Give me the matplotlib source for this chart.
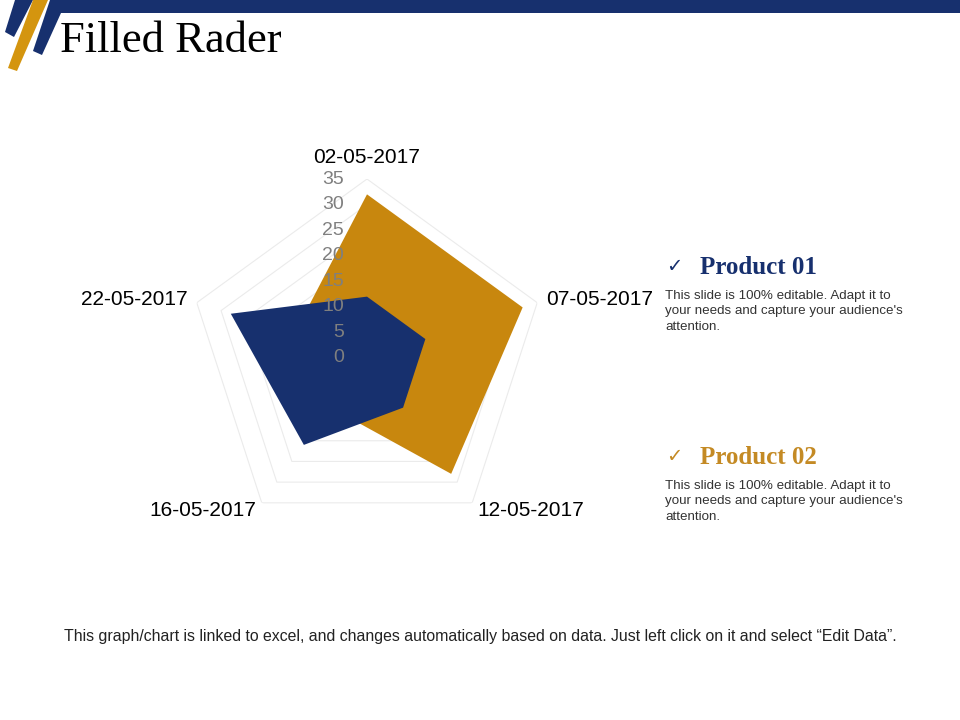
import numpy as np
import matplotlib
matplotlib.use('Agg')
import matplotlib.pyplot as plt
from matplotlib.patches import Polygon
from matplotlib.transforms import offset_copy

# data
dates = ['02-05-2017', '07-05-2017', '12-05-2017', '16-05-2017', '22-05-2017']
product_01 = [12, 12, 12, 21, 28]
product_02 = [32, 32, 28, 12, 15]
rings = [5, 10, 15, 20, 25, 30, 35]
tick_labels = ['0', '5', '10', '15', '20', '25', '30', '35']

navy = '#17306E'
gold = '#C8870E'
gold_text = '#C48A24'

fig = plt.figure(figsize=(9.6, 7.2), dpi=100)

# background layer in pixel coordinates for header + text
bg = fig.add_axes([0, 0, 1, 1])
bg.set_xlim(0, 960)
bg.set_ylim(720, 0)
bg.axis('off')

bg.add_patch(Polygon([(50, 0), (960, 0), (960, 13), (61, 13), (42, 55), (33, 51)],
                     closed=True, color=navy, lw=0))
bg.add_patch(Polygon([(15, 0), (33, 0), (14, 37), (5, 32)], closed=True, color=navy, lw=0))
bg.add_patch(Polygon([(33, 0), (48, 0), (17, 71), (8, 68)], closed=True, color='#D4950F', lw=0))

bg.text(60, 41, 'Filled Rader', fontsize=32, family='Liberation Serif',
        color='black', ha='left', va='center')

# product notes
body = "This slide is 100% editable. Adapt it to\nyour needs and capture your audience's\nattention."
for y0, name, col in [(267, 'Product 01', navy), (457, 'Product 02', gold_text)]:
    bg.text(666, y0, '\u2713', fontsize=14, family='DejaVu Sans', color=col,
            ha='left', va='center')
    bg.text(700, y0, name, fontsize=18, family='Liberation Serif', fontweight='bold',
            fontstyle='normal', color=col, ha='left', va='center')
    bg.text(665, y0 + 23, body, fontsize=9.6, family='Liberation Sans', color='#333333',
            ha='left', va='top', linespacing=1.38)

bg.text(480, 636, 'This graph/chart is linked to excel, and changes automatically based on data. '
        'Just left click on it and select \u201cEdit Data\u201d.',
        fontsize=11.4, family='Liberation Sans', color='#222222', ha='center', va='center')

# radar
cx, cy, R = 367, 358, 179
ax = fig.add_axes([(cx - R) / 960, (720 - cy - R) / 720, 2 * R / 960, 2 * R / 720],
                  projection='polar')
ax.set_theta_offset(np.pi / 2)
ax.set_theta_direction(-1)
ax.set_ylim(0, 35)
ax.grid(False)
ax.set_xticks([])
ax.set_yticks([])
ax.spines['polar'].set_visible(False)
ax.patch.set_alpha(0)

angles = np.linspace(0, 2 * np.pi, len(dates), endpoint=False)
closed = np.append(angles, angles[0])

for r in rings:
    ax.plot(closed, [r] * len(closed), color='#EBEBEB', lw=0.8, zorder=1)

ax.fill(closed, product_02 + product_02[:1], color=gold, lw=0, zorder=2)
ax.fill(closed, product_01 + product_01[:1], color=navy, lw=0, zorder=3)

# radial tick labels, shifted left of the vertical axis
tr = offset_copy(ax.transData, fig=fig, x=-23, y=0, units='dots')
for i, lab in enumerate(tick_labels):
    ax.text(0, i * 5, lab, transform=tr, ha='right', va='center', fontsize=14,
            family='Liberation Sans', color='#7F7F7F', zorder=5)

# category labels
for ang, lab in zip(angles, dates):
    deg = np.degrees(ang)
    if deg < 1:
        ha, r = 'center', 39.3
    elif deg < 180:
        ha, r = 'left', 36.8
    else:
        ha, r = 'right', 36.8
    ax.text(ang, r, lab, ha=ha, va='center', fontsize=15,
            family='Liberation Sans', color='black')

fig.savefig('out.png', dpi=100)
